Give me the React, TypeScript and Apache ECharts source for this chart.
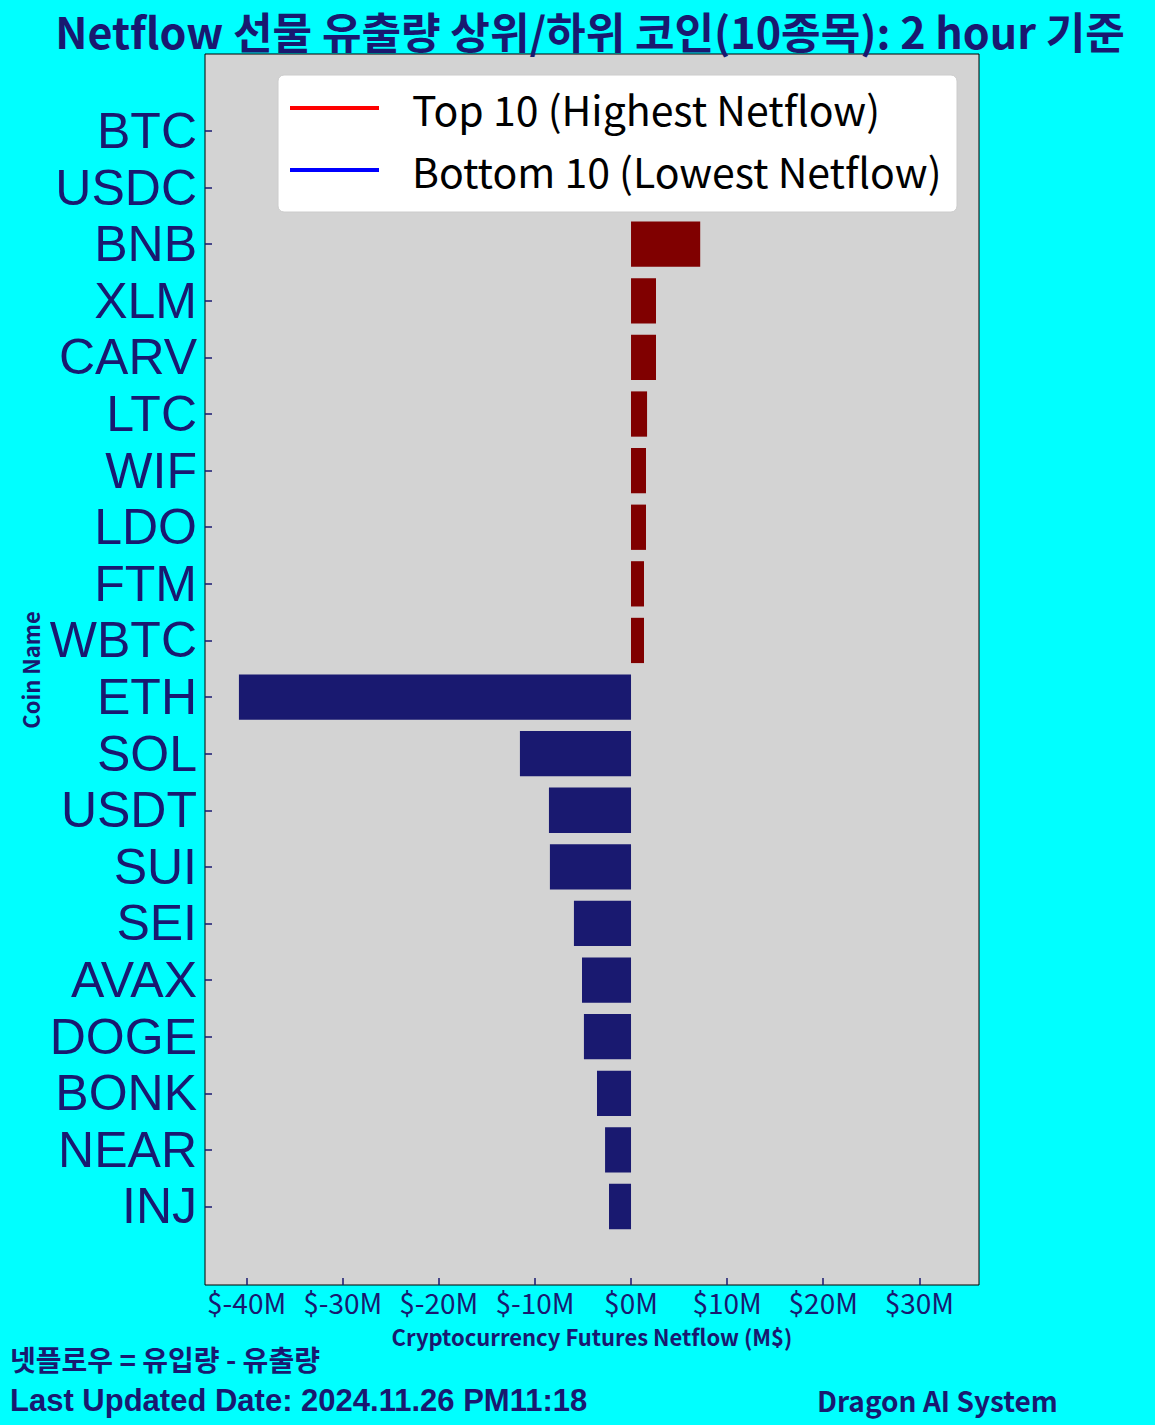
import React, { useEffect, useRef } from "react";
import * as echarts from "echarts";

const categories = ["BTC", "USDC", "BNB", "XLM", "CARV", "LTC", "WIF", "LDO", "FTM", "WBTC", "ETH", "SOL", "USDT", "SUI", "SEI", "AVAX", "DOGE", "BONK", "NEAR", "INJ"];
const netflowValues = [0, 0, 7.2, 2.6, 2.6, 1.67, 1.56, 1.56, 1.35, 1.35, -40.8, -11.56, -8.54, -8.44, -5.94, -5.1, -4.9, -3.54, -2.7, -2.29];
const groups = ["top", "top", "top", "top", "top", "top", "top", "top", "top", "top", "bottom", "bottom", "bottom", "bottom", "bottom", "bottom", "bottom", "bottom", "bottom", "bottom"];
const xTickValues = [-40, -30, -20, -10, 0, 10, 20, 30];
const legendLabels = ["Top 10 (Highest Netflow)", "Bottom 10 (Lowest Netflow)"];

const FONT = "'Noto Sans CJK KR', 'Noto Sans', sans-serif";
const LABEL_FONT = "'Liberation Sans', Arial, sans-serif";
const NAVY = "#191970";
const MAROON = "#800000";
const X_MIN = -44.33;
const X_MAX = 36.21;

export default function App() {
  const ref = useRef<HTMLDivElement>(null);
  useEffect(() => {
    document.body.style.margin = "0";
    if (!ref.current) return;
    const chart = echarts.init(ref.current, null, { renderer: "svg" });
    const data = netflowValues.map((v, i) => ({
      value: v,
      itemStyle: { color: groups[i] === "top" ? MAROON : NAVY },
    }));
    chart.setOption({
      animation: false,
      backgroundColor: "#00ffff",
      textStyle: { fontFamily: FONT },
      grid: [
        { left: 205, right: 176, top: 54, bottom: 140, show: true, backgroundColor: "#d3d3d3", borderColor: "#000", borderWidth: 1 },
        { left: 205, right: 176, top: 102.7, bottom: 190.2 },
      ],
      xAxis: [
        {
          gridIndex: 0,
          type: "value",
          min: X_MIN,
          max: X_MAX,
          splitLine: { show: false },
          axisLine: { show: false },
          axisTick: { show: true, inside: true, length: 7, customValues: xTickValues, lineStyle: { color: NAVY, width: 1.5 } },
          axisLabel: {
            customValues: xTickValues,
            formatter: (v: number) => `$${v}M`,
            color: NAVY,
            fontSize: 28,
            fontFamily: FONT,
            margin: 3,
          },
        },
        { gridIndex: 1, type: "value", min: X_MIN, max: X_MAX, show: false },
      ],
      yAxis: [
        { gridIndex: 0, type: "value", show: false },
        {
          gridIndex: 1,
          type: "category",
          position: "left",
          data: categories,
          inverse: true,
          axisLine: { show: false, onZero: false },
          axisTick: { show: true, inside: true, length: 7, alignWithLabel: true, interval: 0, lineStyle: { color: NAVY, width: 1.5 } },
          axisLabel: { color: NAVY, fontSize: 50, fontFamily: LABEL_FONT, margin: 8, interval: 0, lineHeight: 50 },
        },
      ],
      series: [
        {
          type: "bar",
          xAxisIndex: 1,
          yAxisIndex: 1,
          data,
          barCategoryGap: "20%",
        },
      ],
      graphic: [
        {
          type: "text",
          x: 590,
          y: 30,
          style: { text: "Netflow 선물 유출량 상위/하위 코인(10종목): 2 hour 기준", fill: NAVY, font: `bold 43px ${FONT}`, lineHeight: 44, textAlign: "center", textVerticalAlign: "middle" },
        },
        {
          type: "group",
          children: [
            { type: "rect", shape: { x: 278, y: 75, width: 679, height: 137, r: 6 }, style: { fill: "#ffffff", stroke: "#cccccc", lineWidth: 1 } },
            { type: "line", shape: { x1: 290, y1: 108, x2: 379, y2: 108 }, style: { stroke: "#ff0000", lineWidth: 4 } },
            { type: "line", shape: { x1: 290, y1: 170, x2: 379, y2: 170 }, style: { stroke: "#0000ff", lineWidth: 4 } },
            { type: "text", x: 412, y: 108, style: { text: legendLabels[0], fill: "#000", font: `41px ${FONT}`, textVerticalAlign: "middle" } },
            { type: "text", x: 412, y: 170, style: { text: legendLabels[1], fill: "#000", font: `41px ${FONT}`, textVerticalAlign: "middle" } },
          ],
        },
        {
          type: "text",
          x: 592,
          y: 1336,
          style: { text: "Cryptocurrency Futures Netflow (M$)", fill: NAVY, font: `bold 22px ${FONT}`, textAlign: "center", textVerticalAlign: "middle" },
        },
        {
          type: "text",
          x: 30,
          y: 670,
          rotation: Math.PI / 2,
          style: { text: "Coin Name", fill: NAVY, font: `bold 22px ${FONT}`, textAlign: "center", textVerticalAlign: "middle" },
        },
        {
          type: "text",
          x: 10,
          y: 1359,
          style: { text: "넷플로우 = 유입량 - 유출량", fill: NAVY, font: `bold 28px ${FONT}`, lineHeight: 28, textVerticalAlign: "middle" },
        },
        {
          type: "text",
          x: 10,
          y: 1400,
          style: { text: "Last Updated Date: 2024.11.26 PM11:18", fill: NAVY, font: `bold 31px ${LABEL_FONT}`, lineHeight: 31, textVerticalAlign: "middle" },
        },
        {
          type: "text",
          x: 817,
          y: 1400,
          style: { text: "Dragon AI System", fill: NAVY, font: `bold 28px ${FONT}`, lineHeight: 30, textVerticalAlign: "middle" },
        },
      ],
    });
    return () => chart.dispose();
  }, []);
  return <div ref={ref} style={{ width: 1155, height: 1425 }} />;
}
